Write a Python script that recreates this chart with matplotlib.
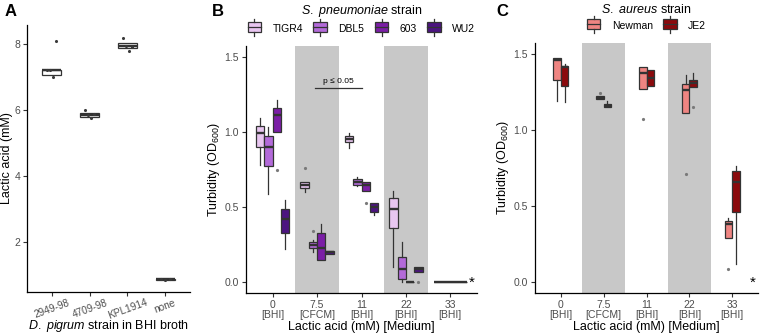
import numpy as np
import matplotlib
matplotlib.use("Agg")
from matplotlib import pyplot as plt
from matplotlib.patches import Rectangle
from matplotlib.lines import Line2D
from matplotlib.legend_handler import HandlerBase

plt.rcParams["font.family"] = ["Liberation Sans", "DejaVu Sans"]
plt.rcParams["mathtext.fontset"] = "custom"
plt.rcParams["mathtext.rm"] = "Liberation Sans"
plt.rcParams["mathtext.it"] = "Liberation Sans:italic"

# ---- panel A: lactic acid produced by D. pigrum strains
a_strains = ["2949-98", "4709-98", "KPL1914", "none"]
a_q1 = [7.05, 5.80, 7.89, 0.84]
a_med = [7.20, 5.86, 7.93, 0.86]
a_q3 = [7.22, 5.90, 8.03, 0.88]
a_points = [[7.20, 7.22, 7.00, 8.10],
            [6.00, 5.85, 5.75, 5.88],
            [8.20, 7.95, 7.80, 7.90],
            [0.86, 0.85, 0.87]]

# ---- shared x categories for B and C
conc = ["0", "7.5", "11", "22", "33"]
medium = ["BHI", "CFCM", "BHI", "BHI", "BHI"]

# ---- panel B: S. pneumoniae (lo, q1, med, q3, hi per concentration)
sp_strains = ["TIGR4", "DBL5", "603", "WU2"]
sp_colors = ["#e8c6f0", "#b36ad9", "#7b1ea6", "#4c1480"]
sp_lo = [[0.78, 0.60, 0.89, 0.10, 0.0],
         [0.59, 0.20, 0.64, 0.00, 0.0],
         [1.00, 0.15, 0.61, 0.00, 0.0],
         [0.22, 0.19, 0.45, 0.07, 0.0]]
sp_q1 = [[0.90, 0.63, 0.93, 0.36, 0.0],
         [0.77, 0.23, 0.65, 0.02, 0.0],
         [1.00, 0.15, 0.61, 0.00, 0.0],
         [0.33, 0.19, 0.47, 0.07, 0.0]]
sp_med = [[0.99, 0.65, 0.95, 0.49, 0.0],
          [0.90, 0.25, 0.67, 0.09, 0.0],
          [1.11, 0.23, 0.65, 0.00, 0.0],
          [0.42, 0.20, 0.50, 0.09, 0.0]]
sp_q3 = [[1.04, 0.67, 0.97, 0.56, 0.0],
         [0.97, 0.27, 0.69, 0.17, 0.0],
         [1.16, 0.33, 0.67, 0.00, 0.0],
         [0.49, 0.21, 0.53, 0.10, 0.0]]
sp_hi = [[1.09, 0.67, 0.99, 0.61, 0.0],
         [1.03, 0.28, 0.70, 0.27, 0.0],
         [1.21, 0.39, 0.67, 0.00, 0.0],
         [0.55, 0.21, 0.53, 0.10, 0.0]]
sp_out = [[[], [0.76], [], [], []],
          [[], [0.34], [], [], []],
          [[0.75], [], [0.53], [], []],
          [[], [], [], [0.0], []]]

# ---- panel C: S. aureus
sa_strains = ["Newman", "JE2"]
sa_colors = ["#ef8582", "#8b0a0d"]
sa_lo = [[1.19, 1.20, 1.27, 1.11, 0.29],
         [1.18, 1.15, 1.29, 1.28, 0.12]]
sa_q1 = [[1.33, 1.20, 1.27, 1.11, 0.29],
         [1.29, 1.15, 1.29, 1.28, 0.46]]
sa_med = [[1.46, 1.21, 1.37, 1.26, 0.38],
          [1.41, 1.16, 1.34, 1.31, 0.66]]
sa_q3 = [[1.47, 1.22, 1.41, 1.30, 0.40],
         [1.42, 1.17, 1.39, 1.33, 0.73]]
sa_hi = [[1.47, 1.22, 1.41, 1.36, 0.42],
         [1.43, 1.19, 1.39, 1.37, 0.76]]
sa_out = [[[], [1.24], [1.07], [0.71], [0.09]],
          [[], [], [], [1.15], []]]

EDGE = "#333333"
TICK_GREY = "#4d4d4d"


def draw_box(ax, x, w, lo, q1, med, q3, hi, fliers, color):
    stats = [dict(whislo=lo, q1=q1, med=med, q3=q3, whishi=hi, fliers=fliers)]
    ax.bxp(stats, positions=[x], widths=w, patch_artist=True, showcaps=False,
           manage_ticks=False,
           boxprops=dict(facecolor=color, edgecolor=EDGE, linewidth=0.9),
           medianprops=dict(color=EDGE, linewidth=1.7),
           whiskerprops=dict(color=EDGE, linewidth=0.9),
           flierprops=dict(marker="o", markersize=2.3, markerfacecolor="#7a7a7a",
                           markeredgecolor="none"))


class HandlerBox(HandlerBase):
    def create_artists(self, legend, orig, xd, yd, width, height, fontsize, trans):
        h = height * 1.15
        y0 = yd + (height - h) / 2
        rect = Rectangle((xd, y0), width, h, facecolor=orig.get_facecolor(),
                         edgecolor=EDGE, linewidth=0.9, transform=trans)
        mid = Line2D([xd, xd + width], [y0 + h / 2] * 2, color=EDGE, lw=0.9, transform=trans)
        top = Line2D([xd + width / 2] * 2, [y0 + h, y0 + h + 0.35 * h], color=EDGE, lw=0.9,
                     transform=trans)
        bot = Line2D([xd + width / 2] * 2, [y0, y0 - 0.35 * h], color=EDGE, lw=0.9,
                     transform=trans)
        return [rect, mid, top, bot]


def style_axes(ax):
    for s in ["top", "right"]:
        ax.spines[s].set_visible(False)
    for s in ["left", "bottom"]:
        ax.spines[s].set_linewidth(0.9)
    ax.tick_params(axis="both", labelsize=7.5, labelcolor=TICK_GREY, length=3, width=0.8,
                   color="#333333", pad=2)


fig = plt.figure(figsize=(7.6, 3.36), dpi=100)
W, H = 760, 336


def px_axes(left, top, right, bottom):
    return fig.add_axes([left / W, 1 - bottom / H, (right - left) / W, (bottom - top) / H])


# ---------------- A
axA = px_axes(27, 25, 190, 292)
for i in range(len(a_strains)):
    draw_box(axA, i, 0.5, a_q1[i], a_q1[i], a_med[i], a_q3[i], a_q3[i], [], "white")
    pts = a_points[i]
    jit = np.linspace(-0.12, 0.12, len(pts))
    axA.scatter(i + jit, pts, s=5, color="#3a3a3a", zorder=3, linewidths=0)
axA.set_xlim(-0.66, 3.66)
axA.set_ylim(0.48, 8.58)
axA.set_yticks([2, 4, 6, 8])
axA.set_xticks(range(len(a_strains)))
style_axes(axA)
axA.set_xticklabels(a_strains, rotation=20, ha="center", fontsize=7.2)
axA.tick_params(axis="x", pad=1)
axA.set_ylabel("Lactic acid (mM)", fontsize=9, labelpad=1)
axA.set_xlabel(r"$\mathit{D.\ pigrum}$ strain in BHI broth", fontsize=9, labelpad=-2.5)

xlabels = [f"{c}\n[{m}]" for c, m in zip(conc, medium)]


def concentration_panel(ax, strains, colors, lo, q1, med, q3, hi, out, w):
    n = len(strains)
    for g in [1, 3]:
        ax.axvspan(g - 0.5, g + 0.5, color="#c8c8c8", zorder=0, lw=0)
    for s in range(n):
        off = (s - (n - 1) / 2) * w
        for g in range(len(conc)):
            draw_box(ax, g + off, w, lo[s][g], q1[s][g], med[s][g], q3[s][g], hi[s][g],
                     out[s][g], colors[s])
    ax.set_xlim(-0.6, 4.6)
    ax.set_ylim(-0.07, 1.57)
    ax.set_yticks([0, 0.5, 1.0, 1.5])
    ax.set_yticklabels(["0.0", "0.5", "1.0", "1.5"])
    ax.set_xticks(range(len(conc)))
    ax.set_xticklabels(xlabels, linespacing=1.0)
    ax.set_ylabel("Turbidity (OD$_{600}$)", fontsize=9, labelpad=2)
    ax.set_xlabel("Lactic acid (mM) [Medium]", fontsize=9, labelpad=1)
    style_axes(ax)
    ax.text(4.48, 0.0, "*", fontsize=11, ha="center", va="center", clip_on=False)
    handles = [Rectangle((0, 0), 1, 1, facecolor=c) for c in colors]
    return handles


leg_kw = dict(handler_map={Rectangle: HandlerBox()}, loc="lower center",
              bbox_to_anchor=(0.5, 1.035), frameon=False, fontsize=7.5, title_fontsize=9,
              handlelength=1.3, handleheight=0.9, columnspacing=1.0, handletextpad=1.1,
              borderaxespad=0.2, borderpad=0.1)

# ---------------- B
axB = px_axes(246, 46, 477, 293)
hB = concentration_panel(axB, sp_strains, sp_colors, sp_lo, sp_q1, sp_med, sp_q3, sp_hi,
                         sp_out, 0.1875)
axB.plot([0.95, 2.0], [1.29, 1.29], color="#333333", lw=0.9)
axB.text(1.47, 1.31, "p ≤ 0.05", fontsize=6, ha="center", va="bottom")
axB.legend(hB, sp_strains, ncol=4, title=r"$\mathit{S.\ pneumoniae}$ strain", **leg_kw)

# ---------------- C
axC = px_axes(535, 43, 758, 293)
hC = concentration_panel(axC, sa_strains, sa_colors, sa_lo, sa_q1, sa_med, sa_q3, sa_hi,
                         sa_out, 0.18)
axC.legend(hC, sa_strains, ncol=2, title=r"$\mathit{S.\ aureus}$ strain", **leg_kw)

for lab, x in [("A", 5), ("B", 212), ("C", 496)]:
    fig.text(x / W, 1 - 12 / H, lab, fontsize=12, fontweight="bold", va="center", ha="left")

fig.savefig("out.png", dpi=100)
